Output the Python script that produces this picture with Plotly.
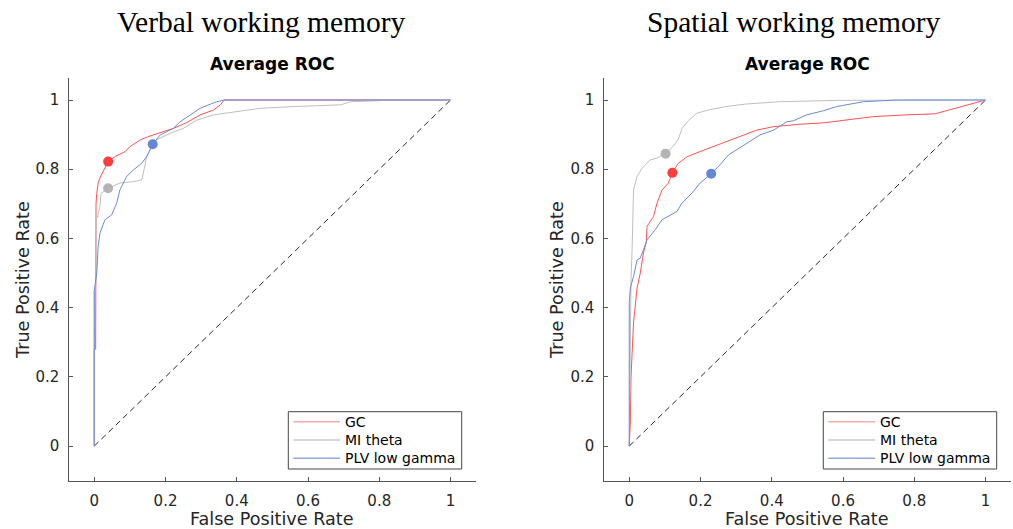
import plotly.graph_objects as go

# ---------------- data ----------------
series_names = ["GC", "MI theta", "PLV low gamma"]
panel_titles = ["Verbal working memory", "Spatial working memory"]
tick_vals = [0, 0.2, 0.4, 0.6, 0.8, 1]
tick_text = ["0", "0.2", "0.4", "0.6", "0.8", "1"]

# Verbal working memory
verbal_gc_fpr = [0, 0, 0.004, 0.004, 0.005, 0.007, 0.011, 0.016, 0.021, 0.030, 0.039, 0.059, 0.087, 0.100,
                 0.129, 0.157, 0.194, 0.222, 0.260, 0.297, 0.335, 0.354, 0.365, 1.0]
verbal_gc_tpr = [0, 0.28, 0.28, 0.653, 0.70, 0.73, 0.76, 0.775, 0.785, 0.80, 0.822, 0.837, 0.851, 0.865,
                 0.885, 0.896, 0.908, 0.918, 0.935, 0.957, 0.971, 0.986, 1.0, 1.0]

verbal_mi_fpr = [0, 0, 0.005, 0.005, 0.010, 0.016, 0.019, 0.039, 0.072, 0.110, 0.133, 0.138, 0.147, 0.157,
                 0.175, 0.213, 0.250, 0.288, 0.335, 0.391, 0.466, 0.560, 0.691, 0.720, 0.850, 1.0]
verbal_mi_tpr = [0, 0.45, 0.47, 0.654, 0.665, 0.692, 0.730, 0.745, 0.760, 0.764, 0.769, 0.789, 0.836, 0.856,
                 0.885, 0.904, 0.918, 0.942, 0.957, 0.966, 0.976, 0.981, 0.986, 0.995, 1.0, 1.0]

verbal_plv_fpr = [0, 0, 0.007, 0.011, 0.016, 0.030, 0.049, 0.063, 0.072, 0.091, 0.110, 0.133, 0.147, 0.164,
                  0.185, 0.222, 0.241, 0.269, 0.297, 0.326, 0.344, 0.365, 1.0]
verbal_plv_tpr = [0, 0.45, 0.50, 0.577, 0.615, 0.654, 0.668, 0.702, 0.740, 0.779, 0.798, 0.817, 0.836, 0.872,
                  0.899, 0.918, 0.937, 0.957, 0.976, 0.988, 0.995, 1.0, 1.0]

verbal_op_fpr = [0.039, 0.039, 0.164]
verbal_op_tpr = [0.822, 0.745, 0.872]

# Spatial working memory
spatial_gc_fpr = [0, 0.003, 0.005, 0.009, 0.012, 0.022, 0.031, 0.040, 0.048, 0.050, 0.068, 0.078, 0.092,
                  0.110, 0.121, 0.138, 0.162, 0.199, 0.236, 0.274, 0.320, 0.358, 0.405, 0.479, 0.545,
                  0.624, 0.685, 0.778, 0.858, 1.0]
spatial_gc_tpr = [0, 0.067, 0.20, 0.279, 0.356, 0.457, 0.500, 0.558, 0.591, 0.635, 0.663, 0.702, 0.740,
                  0.760, 0.791, 0.817, 0.836, 0.851, 0.865, 0.880, 0.899, 0.913, 0.923, 0.930, 0.934,
                  0.944, 0.952, 0.957, 0.960, 1.0]

spatial_mi_fpr = [0, 0.003, 0.005, 0.008, 0.012, 0.012, 0.022, 0.036, 0.059, 0.078, 0.103, 0.124, 0.138,
                  0.148, 0.166, 0.190, 0.222, 0.270, 0.325, 0.420, 0.590, 1.0]
spatial_mi_tpr = [0, 0.37, 0.481, 0.567, 0.692, 0.740, 0.779, 0.803, 0.827, 0.832, 0.846, 0.867, 0.887,
                  0.918, 0.940, 0.962, 0.971, 0.981, 0.988, 0.995, 0.999, 1.0]

spatial_plv_fpr = [0, 0, 0.003, 0.012, 0.022, 0.031, 0.040, 0.050, 0.073, 0.092, 0.134, 0.148, 0.176, 0.199,
                   0.230, 0.255, 0.278, 0.302, 0.330, 0.367, 0.405, 0.442, 0.461, 0.498, 0.545, 0.582,
                   0.657, 0.713, 0.750, 1.0]
spatial_plv_tpr = [0, 0.414, 0.457, 0.490, 0.538, 0.543, 0.567, 0.596, 0.625, 0.654, 0.678, 0.702, 0.731,
                   0.760, 0.787, 0.813, 0.841, 0.856, 0.875, 0.899, 0.913, 0.937, 0.940, 0.957, 0.969,
                   0.981, 0.995, 0.998, 1.0, 1.0]

spatial_op_fpr = [0.121, 0.102, 0.230]
spatial_op_tpr = [0.790, 0.845, 0.787]

chance_line = [0, 1]

# ---------------- style ----------------
W, H = 1013, 529
line_colors = ["rgb(255,80,80)", "rgb(190,190,190)", "rgb(105,140,215)"]
legend_colors = ["rgb(255,170,170)", "rgb(200,200,200)", "rgb(150,170,225)"]
marker_colors = ["rgb(255,60,60)", "rgb(180,180,180)", "rgb(100,136,210)"]
axis_col = "rgb(85,85,85)"
txt_col = "rgb(38,38,38)"
sans = "DejaVu Sans"

fig = go.Figure()

panels = [
    ("x", "y",
     [(verbal_gc_fpr, verbal_gc_tpr), (verbal_mi_fpr, verbal_mi_tpr), (verbal_plv_fpr, verbal_plv_tpr)],
     (verbal_op_fpr, verbal_op_tpr)),
    ("x2", "y2",
     [(spatial_gc_fpr, spatial_gc_tpr), (spatial_mi_fpr, spatial_mi_tpr), (spatial_plv_fpr, spatial_plv_tpr)],
     (spatial_op_fpr, spatial_op_tpr)),
]

for xa, ya, curves, ops in panels:
    fig.add_trace(go.Scatter(x=chance_line, y=chance_line, mode="lines", xaxis=xa, yaxis=ya,
                             line=dict(color="rgb(40,40,40)", width=1, dash="6px,4px"),
                             showlegend=False, hoverinfo="skip"))
    for i, (fx, ty) in enumerate(curves):
        fig.add_trace(go.Scatter(x=fx, y=ty, mode="lines", name=series_names[i], xaxis=xa, yaxis=ya,
                                 showlegend=False, line=dict(color=line_colors[i], width=1)))
    for i in range(3):
        fig.add_trace(go.Scatter(x=[ops[0][i]], y=[ops[1][i]], mode="markers", xaxis=xa, yaxis=ya,
                                 marker=dict(color=marker_colors[i], size=10), showlegend=False))

y_dom = [1 - 480.7 / H, 1 - 77.5 / H]
x_doms = [[69.3 / W, 475.5 / W], [604.3 / W, 1010.5 / W]]

def xaxis(dom, anchor):
    return dict(domain=dom, anchor=anchor, range=[-0.07, 1.07], tickvals=tick_vals, ticktext=tick_text,
                showline=True, linecolor=axis_col, linewidth=1, ticks="inside", ticklen=4,
                tickcolor=axis_col, showgrid=False, zeroline=False,
                tickfont=dict(family=sans, size=15, color=txt_col), ticklabelstandoff=6)

def yaxis(anchor):
    return dict(domain=y_dom, anchor=anchor, range=[-0.1, 1.065], tickvals=tick_vals, ticktext=tick_text,
                showline=True, linecolor=axis_col, linewidth=1, ticks="inside", ticklen=4,
                tickcolor=axis_col, showgrid=False, zeroline=False,
                tickfont=dict(family=sans, size=15, color=txt_col), ticklabelstandoff=6)

annotations = []
shapes = []
centers = [(69.3 + 475.5) / 2, (604.3 + 1010.5) / 2]
title_centers = [261, 794]
ylabel_x = [23, 557]
legend_left = [288.3, 823.3]
legend_right = [461.7, 996.7]
legend_rows = [421.7, 440.0, 458.3]

def px(xp):
    return xp / W

def py(yp):
    return 1 - yp / H

for k in range(2):
    annotations.append(dict(text=panel_titles[k], x=px(title_centers[k]), y=py(22), xref="paper",
                            yref="paper", showarrow=False, xanchor="center", yanchor="middle",
                            font=dict(family="Liberation Serif", size=29.5, color="black")))
    annotations.append(dict(text="<b>Average ROC</b>", x=px(centers[k]), y=py(64), xref="paper",
                            yref="paper", showarrow=False, xanchor="center", yanchor="middle",
                            font=dict(family=sans, size=17, color="black")))
    annotations.append(dict(text="False Positive Rate", x=px(centers[k]), y=py(519), xref="paper",
                            yref="paper", showarrow=False, xanchor="center", yanchor="middle",
                            font=dict(family=sans, size=17.6, color=txt_col)))
    annotations.append(dict(text="True Positive Rate", x=px(ylabel_x[k]), y=py(280), xref="paper",
                            yref="paper", showarrow=False, xanchor="center", yanchor="middle",
                            textangle=-90, font=dict(family=sans, size=17.6, color=txt_col)))
    # legend box
    shapes.append(dict(type="rect", xref="paper", yref="paper",
                       x0=px(legend_left[k]), x1=px(legend_right[k]), y0=py(469), y1=py(411.7),
                       line=dict(color="rgb(70,70,70)", width=1), fillcolor="white", layer="above"))
    for i in range(3):
        shapes.append(dict(type="line", xref="paper", yref="paper",
                           x0=px(legend_left[k] + 5), x1=px(legend_left[k] + 51.7),
                           y0=py(legend_rows[i]), y1=py(legend_rows[i]),
                           line=dict(color=legend_colors[i], width=1.6), layer="above"))
        annotations.append(dict(text=series_names[i], x=px(legend_left[k] + 55), y=py(legend_rows[i]),
                                xref="paper", yref="paper", showarrow=False, xanchor="left",
                                yanchor="middle", font=dict(family=sans, size=14, color="black")))

fig.update_layout(
    width=W, height=H, margin=dict(l=0, r=0, t=0, b=0),
    paper_bgcolor="white", plot_bgcolor="white", showlegend=False,
    xaxis=xaxis(x_doms[0], "y"), yaxis=yaxis("x"),
    xaxis2=xaxis(x_doms[1], "y2"), yaxis2=yaxis("x2"),
    annotations=annotations, shapes=shapes,
)

fig.write_html("out.html", config={"displayModeBar": False},
               post_script="document.body.style.margin='0';")
